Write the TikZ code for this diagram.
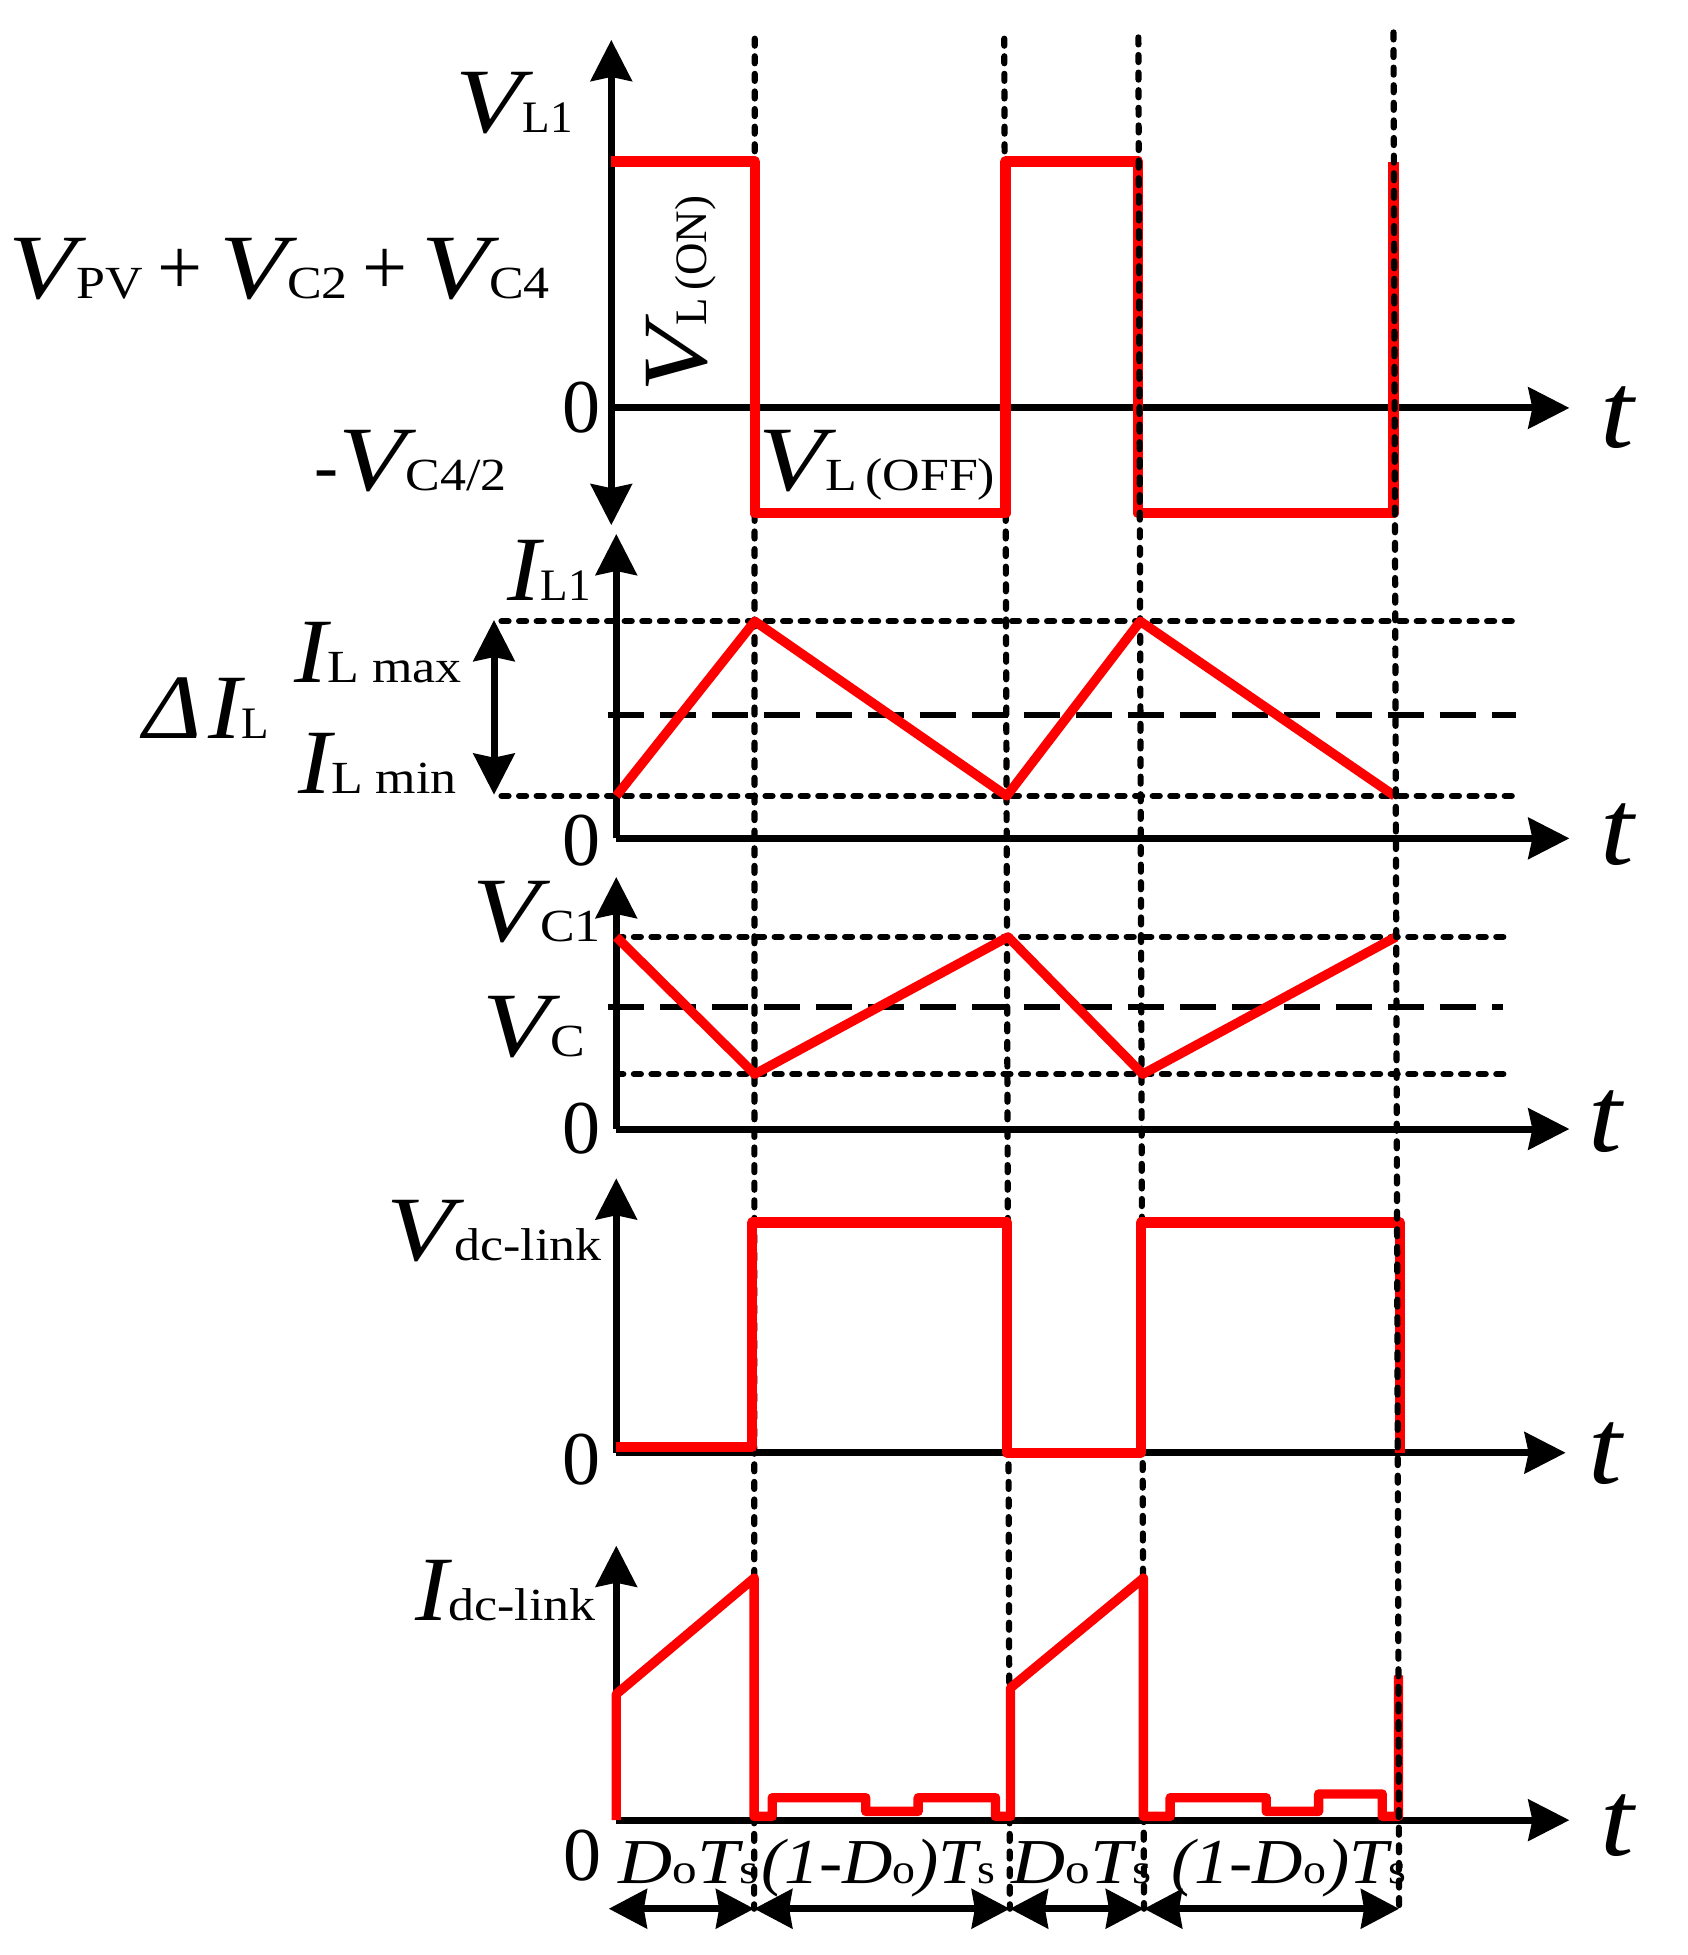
\documentclass[tikz,border=0pt]{standalone}
\usepackage{fontspec}
\setmainfont{Liberation Serif}
\newfontfamily\fV[FakeStretch=1.2]{Liberation Serif}
\newfontfamily\fI[FakeStretch=1.08]{Liberation Serif}
\newfontfamily\fS[FakeStretch=1.13]{Liberation Serif}
\newfontfamily\fD[FakeStretch=1.17]{Liberation Serif}
\newfontfamily\fE[FakeStretch=1.09]{Liberation Serif}
\newfontfamily\fT[FakeStretch=1.12]{Liberation Serif}
\usetikzlibrary{arrows.meta}
\newcommand{\Vbig}[1]{{\fV\fontsize{92}{92}\selectfont\itshape #1}}
\newcommand{\Ibig}[1]{{\fI\fontsize{92}{92}\selectfont\itshape #1}}
\newcommand{\Vsub}[1]{{\fS\fontsize{46}{46}\selectfont #1}}
\newcommand{\Psub}[1]{{\rmfamily\fontsize{45}{45}\selectfont #1}}
\newcommand{\Dbig}[1]{{\fD\fontsize{64}{64}\selectfont\itshape #1}}
\newcommand{\Dsub}[1]{{\fD\fontsize{42}{42}\selectfont #1}}
\newcommand{\Ebig}[1]{{\fE\fontsize{64}{64}\selectfont\itshape #1}}
\newcommand{\Esub}[1]{{\fE\fontsize{42}{42}\selectfont #1}}
\tikzset{
  x=1.2475pt,y=-1.2475pt,
  headtip/.tip={Stealth[length=41pt,width=41pt,inset=4pt]},
  axis/.style={line width=7pt,-headtip,black},
  axisboth/.style={line width=7pt,headtip-headtip,black},
  spantip/.tip={Stealth[length=38pt,width=39pt,inset=3pt]},
  span/.style={line width=7pt,spantip-spantip,black},
  wave/.style={line width=10.2pt,red,line join=round},
  wavethin/.style={wave,line width=9.4pt},
  guide/.style={line width=6.2pt,black,line cap=round,dash pattern=on 7pt off 10.6pt},
  mean/.style={line width=6pt,black,dash pattern=on 36pt off 16pt},
  txt/.style={inner sep=0pt,outer sep=0pt,anchor=base west,text=black},
  plus/.style={inner sep=0pt,outer sep=0pt,anchor=base,font=\fontsize{80}{80}\selectfont},
  zero/.style={inner sep=0pt,outer sep=0pt,anchor=base,font=\fontsize{76}{76}\selectfont},
  tee/.style={inner sep=0pt,outer sep=0pt,anchor=base,font=\fT\fontsize{108}{108}\selectfont\itshape},
}
\begin{document}
\begin{tikzpicture}
\useasboundingbox (0,0) rectangle (1352.3,1567.1);
% time marks
\coordinate (a1) at (605,31);   \coordinate (b1) at (604.5,1530);
\coordinate (a2) at (805,31);   \coordinate (b2) at (809.5,1530);
\coordinate (a3) at (912.5,30); \coordinate (b3) at (917,1530);
\coordinate (a4) at (1117,26);  \coordinate (b4) at (1121.5,1530);
\draw[guide] (a1) -- (b1);
\draw[guide] (a2) -- (b2);
% panel 1
\coordinate (o1) at (490,327);
\draw[axisboth] (490,32) -- (490,421);
\draw[axis] (o1) -- (1258,327);
\draw[wave] (490,129.5) -- (605,129.5) -- (605,411.5) -- (806,411.5) -- (806,129.5) -- (912.5,129.5) -- (912.5,411.5) -- (1117,411.5) -- (1117,129.5);
\draw[guide] (a3) -- (b3);
% panel 2
\coordinate (o2) at (494,672);
\draw[axis] (o2) -- (494,428);
\draw[axis] (o2) -- (1258,672);
\draw[guide] (402,498) -- (1213,498);
\draw[guide] (402,638) -- (1213,638);
\draw[mean] (487,573) -- (1215,573);
\draw[axisboth] (396,497) -- (396,637);
\draw[wavethin] (494,638) -- (605,498) -- (807,638) -- (914,498) -- (1118,638);
% panel 3
\coordinate (o3) at (494,905);
\draw[axis] (o3) -- (494,703);
\draw[axis] (o3) -- (1258,905);
\draw[guide] (494,751) -- (1213,751);
\draw[guide] (494,861) -- (1213,861);
\draw[mean] (487,807) -- (1205,807);
\draw[wavethin] (494,751) -- (605,861) -- (808,751) -- (916,861) -- (1119,751);
% panel 4
\coordinate (o4) at (494,1164.5);
\draw[axis] (o4) -- (494,944.5);
\draw[axis] (o4) -- (1255,1164.5);
\draw[wave] (494,1160) -- (603,1160) -- (603,980) -- (807.5,980) -- (807.5,1164.5) -- (914.5,1164.5) -- (914.5,980) -- (1122,980) -- (1122,1164.5);
% panel 5
\coordinate (o5) at (494,1459);
\draw[axis] (o5) -- (494,1239);
\draw[axis] (o5) -- (1258,1459);
\draw[wavethin] (494,1459) -- (494,1358) -- (604.5,1265) -- (604.5,1456) -- (619,1456) -- (619,1441) -- (694,1441) -- (694,1452) -- (736,1452) -- (736,1441) -- (798,1441) -- (798,1456) -- (810,1456) -- (810,1353) -- (916.5,1265) -- (916.5,1456) -- (938,1456) -- (938,1441) -- (1015,1441) -- (1015,1452) -- (1057,1452) -- (1057,1438) -- (1108,1438) -- (1108,1456) -- (1121,1456) -- (1121,1343);
% time mark drawn over the last edges
\draw[guide] (a4) -- (b4);
% durations
\coordinate (c0) at (488,1530); \coordinate (c1) at (604.5,1530); \coordinate (c2) at (809.5,1530);
\coordinate (c3) at (917,1530); \coordinate (c4) at (1121.5,1530);
\draw[span] (c0) -- (c1);
\draw[span] (c1) -- (c2);
\draw[span] (c2) -- (c3);
\draw[span] (c3) -- (c4);
% labels panel 1
\node[txt] (l1) at (365,106) {\Vbig{V}\Psub{L1}};
\node[txt] (l2a) at (7,239) {\Vbig{V}\Vsub{PV}};
\node[plus] (p1) at (144,236) {+};
\node[txt] (l2b) at (176,239) {\Vbig{V}\Vsub{C2}};
\node[plus] (p2) at (309,236) {+};
\node[txt] (l2c) at (338,239) {\Vbig{V}\Vsub{C4}};
\node[txt] (l3) at (252,393) {{\fontsize{72}{72}\selectfont -}\Vbig{V}\Vsub{C4/2}};
\node[txt] (l4) at (608,393) {\Vbig{V}\Vsub{L\,(OFF)}};
\node[txt,rotate=90] (l5) at (566,315) {\Vbig{V}\Psub{L\,(ON)}};
\node[zero] (z1) at (466,347) {0};
\node[tee] (t1) at (1296,359) {t};
% labels panel 2
\node[txt] (l6) at (407,481) {\Ibig{I}\Psub{L1}};
\node[txt] (l7) at (236,547) {\Ibig{I}\Vsub{L max}};
\node[txt] (l8) at (239,636) {\Ibig{I}\Vsub{L min}};
\node[txt] (l9) at (115,592) {\Ibig{Δ}};
\node[txt] (l9b) at (167,592) {\Ibig{I}\Psub{L}};
\node[zero] (z2) at (466,694) {0};
\node[tee] (t2) at (1296,693) {t};
% labels panel 3
\node[txt] (l10) at (379,755) {\Vbig{V}\Vsub{C1}};
\node[txt] (l11) at (387,847) {\Vbig{V}\Vsub{C}};
\node[zero] (z3) at (466,925) {0};
\node[tee] (t3) at (1287,923) {t};
% labels panel 4
\node[txt] (l12) at (310,1010) {\Vbig{V}\Vsub{dc-link}};
\node[zero] (z4) at (466,1190) {0};
\node[tee] (t4) at (1287,1189) {t};
% labels panel 5
\node[txt] (l13) at (333,1299) {\Ibig{I}\Vsub{dc-link}};
\node[zero] (z5) at (467,1507) {0};
\node[tee] (t5) at (1296,1487) {t};
% duration labels
\node[txt] (d1) at (496,1510) {\Dbig{D}\Dsub{o}\Dbig{T}\Dsub{s}};
\node[txt] (d2) at (610,1510) {\Ebig{(1-D}\Esub{o}\Ebig{)T}\Esub{s}};
\node[txt] (d3) at (811,1510) {\Dbig{D}\Dsub{o}\Dbig{T}\Dsub{s}};
\node[txt] (d4) at (939,1510) {\Ebig{(1-D}\Esub{o}\Ebig{)T}\Esub{s}};
\end{tikzpicture}
\end{document}
